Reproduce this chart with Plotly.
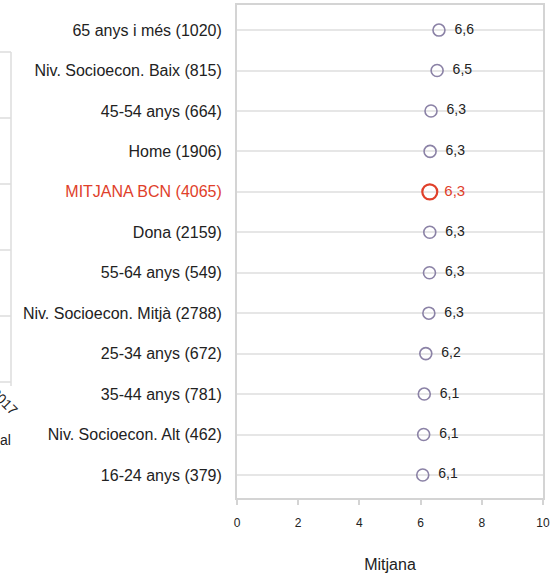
import plotly.graph_objects as go

# ---- data ----
categories = [
    "65 anys i més (1020)",
    "Niv. Socioecon. Baix (815)",
    "45-54 anys (664)",
    "Home (1906)",
    "MITJANA BCN (4065)",
    "Dona (2159)",
    "55-64 anys (549)",
    "Niv. Socioecon. Mitjà (2788)",
    "25-34 anys (672)",
    "35-44 anys (781)",
    "Niv. Socioecon. Alt (462)",
    "16-24 anys (379)",
]
values = [6.60, 6.54, 6.34, 6.31, 6.30, 6.30, 6.29, 6.27, 6.17, 6.12, 6.10, 6.07]
highlight = "MITJANA BCN (4065)"
x_ticks = [0, 2, 4, 6, 8, 10]
x_title = "Mitjana"

RED = "#e0402a"
PURPLE = "#8b82a6"
FONT = "Liberation Sans, Arial, sans-serif"

W, H = 553, 575
ML, MR, MT, MB = 237, 10, 5, 77

normal = [(c, v) for c, v in zip(categories, values) if c != highlight]
hl = [(c, v) for c, v in zip(categories, values) if c == highlight]

fig = go.Figure()
fig.add_trace(go.Scatter(
    x=[v for _, v in normal], y=[c for c, _ in normal],
    mode="markers+text",
    marker=dict(symbol="circle-open", size=12, color=PURPLE, line=dict(width=1.6, color=PURPLE)),
    texttemplate="\u2002%{x:.1f}", textposition="middle right",
    textfont=dict(family=FONT, size=14, color="#222222"),
    cliponaxis=False, showlegend=False,
))
fig.add_trace(go.Scatter(
    x=[v for _, v in hl], y=[c for c, _ in hl],
    mode="markers+text",
    marker=dict(symbol="circle-open", size=15, color=RED, line=dict(width=2.2, color=RED)),
    texttemplate="&nbsp;%{x:.1f}", textposition="middle right",
    textfont=dict(family=FONT, size=15, color=RED),
    cliponaxis=False, showlegend=False,
))

ticktext = [f'<span style="color:{RED}">{c}</span>' if c == highlight else c for c in categories]

fig.update_layout(
    width=W, height=H,
    margin=dict(l=ML, r=MR, t=MT, b=MB, pad=0),
    paper_bgcolor="white", plot_bgcolor="white",
    separators=",.",
    font=dict(family=FONT, color="#222222"),
    xaxis=dict(
        range=[0, 10], tickvals=x_ticks, showgrid=False, zeroline=False,
        automargin=False,
        showline=True, linecolor="#d4d4d4", linewidth=2, mirror=True,
        ticks="outside", ticklen=5, tickcolor="#d4d4d4", tickwidth=1.5,
        ticklabelstandoff=8,
        tickfont=dict(size=12, color="#222222"),
        title=dict(text=x_title, font=dict(size=16, color="#222222"), standoff=29),
    ),
    yaxis=dict(
        type="category", categoryorder="array", categoryarray=categories,
        tickvals=categories, ticktext=ticktext,
        range=[len(categories) - 1 + 0.57, -0.62],
        automargin=False,
        showgrid=True, gridcolor="#e6e6e6", gridwidth=2,
        showline=True, linecolor="#d4d4d4", linewidth=2, mirror=True,
        ticks="", ticklabelstandoff=10,
        tickfont=dict(size=16, color="#222222"),
    ),
)

# ---- cropped neighbouring chart at the left edge (decoration) ----
pw, ph = W - ML - MR, H - MT - MB
def px(xp):
    return (xp - ML) / pw
def py(yp):
    return (H - MB - yp) / ph

edge_x = 11
for yy in [52, 118, 184, 250, 316, 382]:
    fig.add_shape(type="line", xref="paper", yref="paper",
                  x0=px(-5), x1=px(edge_x), y0=py(yy), y1=py(yy),
                  line=dict(color="#dcdcdc", width=1.5))
fig.add_shape(type="line", xref="paper", yref="paper",
              x0=px(edge_x), x1=px(edge_x), y0=py(52), y1=py(386),
              line=dict(color="#dcdcdc", width=1.5))
fig.add_annotation(xref="paper", yref="paper", x=px(4), y=py(401),
                   xanchor="center", yanchor="middle",
                   text="2017", textangle=45, showarrow=False,
                   font=dict(family=FONT, size=14, color="#222222"))
fig.add_annotation(xref="paper", yref="paper", x=px(13), y=py(440),
                   xanchor="right", yanchor="middle", text="Anual", showarrow=False,
                   font=dict(family=FONT, size=14, color="#222222"))

fig.write_html("out.html", config={"displayModeBar": False},
               post_script="document.body.style.margin='0';")
